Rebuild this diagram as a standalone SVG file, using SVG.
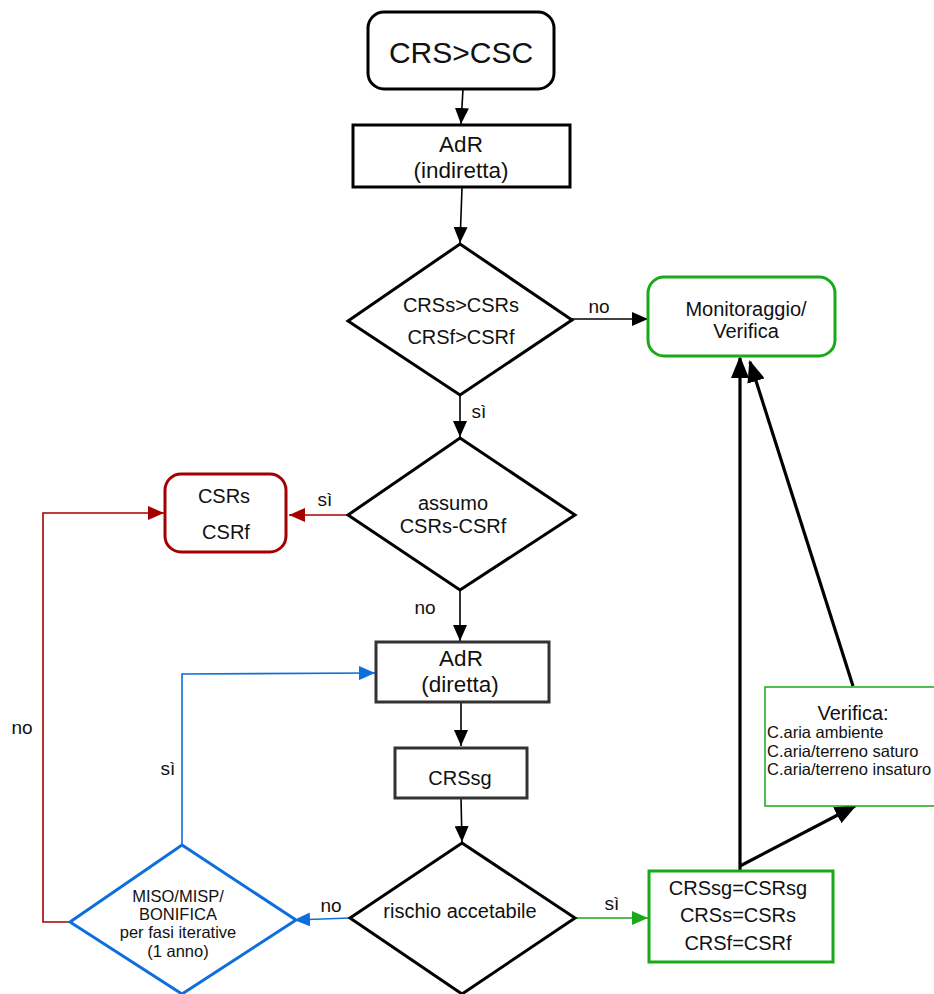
<svg xmlns="http://www.w3.org/2000/svg" width="934" height="994" viewBox="0 0 934 994">
<style>
text{font-family:"Liberation Sans",Arial,sans-serif;fill:#111;text-anchor:middle}
.blk{fill:#fff;stroke:#000;stroke-width:3}
.dk{fill:#fff;stroke:#333;stroke-width:3}
.grn{fill:#fff;stroke:#19a919;stroke-width:3}
.red{fill:#fff;stroke:#a50000;stroke-width:3}
.blu{fill:#fff;stroke:#0e6fdc;stroke-width:3}
.c{fill:none;stroke:#000;stroke-width:1.6}
.ct{fill:none;stroke:#000;stroke-width:3.2}
.cr{fill:none;stroke:#a50000;stroke-width:1.6}
.cb{fill:none;stroke:#0e6fdc;stroke-width:1.6}
.cg{fill:none;stroke:#19a919;stroke-width:1.6}
.f20{font-size:20px}
.f22{font-size:22.5px}
.f16{font-size:16.5px}
.lb{font-size:19px}
.st{text-anchor:start}
</style>
<defs>
<marker id="ak" markerUnits="userSpaceOnUse" markerWidth="16" markerHeight="14" refX="16" refY="7" orient="auto"><path d="M0,0L16,7L0,14z" fill="#000"/></marker>
<marker id="akt" markerUnits="userSpaceOnUse" markerWidth="22" markerHeight="18" refX="20" refY="9" orient="auto"><path d="M0,0L22,9L0,18z" fill="#000"/></marker>
<marker id="ar" markerUnits="userSpaceOnUse" markerWidth="16" markerHeight="14" refX="16" refY="7" orient="auto"><path d="M0,0L16,7L0,14z" fill="#a50000"/></marker>
<marker id="ab" markerUnits="userSpaceOnUse" markerWidth="16" markerHeight="14" refX="16" refY="7" orient="auto"><path d="M0,0L16,7L0,14z" fill="#0e6fdc"/></marker>
<marker id="ag" markerUnits="userSpaceOnUse" markerWidth="16" markerHeight="14" refX="16" refY="7" orient="auto"><path d="M0,0L16,7L0,14z" fill="#19a919"/></marker>
</defs>

<g id="connectors">
<path class="c" d="M463,89L461,124" marker-end="url(#ak)"/>
<path class="c" d="M462,188L460,243" marker-end="url(#ak)"/>
<path class="c" d="M572,319L648,319" marker-end="url(#ak)"/>
<path class="c" d="M460,395L460,437" marker-end="url(#ak)"/>
<path class="cr" d="M348,515L289,515" marker-end="url(#ar)"/>
<path class="c" d="M460,590L460,641" marker-end="url(#ak)"/>
<path class="c" d="M461,703L461,746" marker-end="url(#ak)"/>
<path class="c" d="M461,798L462,842" marker-end="url(#ak)"/>
<path class="cb" d="M350,918L294,920" marker-end="url(#ab)"/>
<path class="cb" d="M182,845L182,674L375,673" marker-end="url(#ab)"/>
<path class="cr" d="M70,922L43,922L43,513L164,513" marker-end="url(#ar)"/>
<path class="cg" d="M575,918L648,918" marker-end="url(#ag)"/>
<path class="ct" d="M740,870L740,358" marker-end="url(#akt)"/>
<path class="ct" d="M740,866L855,806" marker-end="url(#akt)"/>
<path class="ct" d="M853,686L750,362" marker-end="url(#akt)"/>
<text class="lb" x="599" y="313">no</text>
<text class="lb" x="479" y="418">sì</text>
<text class="lb" x="325" y="506">sì</text>
<text class="lb" x="425" y="614">no</text>
<text class="lb" x="331" y="912">no</text>
<text class="lb" x="168" y="775">sì</text>
<text class="lb" x="22" y="734">no</text>
<text class="lb" x="612" y="910">sì</text>
</g>

<g id="start">
<rect class="blk" x="368" y="12" width="186" height="77" rx="16"/>
<text x="461" y="63" font-size="30">CRS&gt;CSC</text>
</g>

<g id="adr-indiretta">
<rect class="blk" x="353" y="125" width="217" height="62"/>
<text class="f22" x="461" y="152">AdR</text>
<text class="f22" x="461" y="178">(indiretta)</text>
</g>

<g id="dec1">
<path class="blk" d="M460,244L572,320L460,395L348,321z"/>
<text class="f20" x="461" y="312">CRSs&gt;CSRs</text>
<text class="f20" x="461" y="344">CRSf&gt;CSRf</text>
</g>

<g id="monitoraggio">
<rect class="grn" x="648" y="277" width="187" height="79" rx="16"/>
<text class="f20" x="746" y="316">Monitoraggio/</text>
<text class="f20" x="746" y="338">Verifica</text>
</g>

<g id="dec2">
<path class="blk" d="M460,438L575,515L460,590L348,515z"/>
<text class="f20" x="453" y="510">assumo</text>
<text class="f20" x="453" y="533">CSRs-CSRf</text>
</g>

<g id="csr">
<rect class="red" x="165" y="474" width="121" height="78" rx="16"/>
<text class="f20" x="224" y="503">CSRs</text>
<text class="f20" x="226" y="539">CSRf</text>
</g>

<g id="adr-diretta">
<rect class="dk" x="376" y="642" width="173" height="60"/>
<text class="f22" x="461" y="666">AdR</text>
<text class="f22" x="460" y="692">(diretta)</text>
</g>

<g id="crssg">
<rect class="dk" x="395" y="748" width="132" height="50"/>
<text class="f20" x="460" y="785">CRSsg</text>
</g>

<g id="dec3">
<path class="blk" d="M462,843L575,918L462,994L350,918z"/>
<text class="f20" x="460" y="918">rischio accetabile</text>
</g>

<g id="miso">
<path class="blu" d="M182,845L296,920L182,994L70,922z"/>
<text class="f16" x="178" y="902">MISO/MISP/</text>
<text class="f16" x="178" y="920">BONIFICA</text>
<text class="f16" x="178" y="938">per fasi iterative</text>
<text class="f16" x="178" y="957">(1 anno)</text>
</g>

<g id="equal">
<rect class="grn" x="649" y="871" width="184" height="91"/>
<text class="f20" x="738" y="895">CRSsg=CSRsg</text>
<text class="f20" x="738" y="922">CRSs=CSRs</text>
<text class="f20" x="738" y="950">CRSf=CSRf</text>
</g>

<g id="verifica">
<rect x="765" y="687" width="175" height="119" fill="#fff" stroke="#19a919" stroke-width="1.5"/>
<text class="f20" x="853" y="720">Verifica:</text>
<text class="f16 st" x="767" y="738">C.aria ambiente</text>
<text class="f16 st" x="767" y="757">C.aria/terreno saturo</text>
<text class="f16 st" x="767" y="775">C.aria/terreno insaturo</text>
</g>
</svg>
